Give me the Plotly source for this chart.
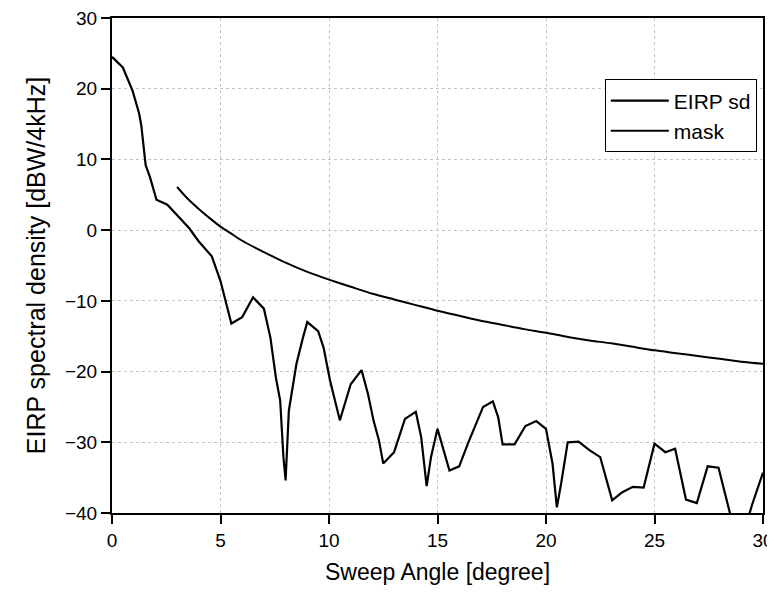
import plotly.graph_objects as go

# EIRP spectral density curve
eirp_x = [0, 0.5, 0.95, 1.25, 1.35, 1.55, 1.75, 2.05, 2.55, 3.1, 3.55, 4.0, 4.6, 5.0, 5.15,
          5.5, 6.0, 6.5, 7.0, 7.3, 7.55, 7.75, 7.9, 8.0, 8.15, 8.5, 8.8, 9.0, 9.5, 9.75,
          10.05, 10.5, 11.0, 11.5, 11.8, 12.05, 12.3, 12.5, 13.0, 13.5, 14.0, 14.25, 14.5,
          14.7, 15.0, 15.55, 16.0, 16.4, 17.1, 17.55, 17.8, 18.0, 18.55, 19.05, 19.55, 20.0,
          20.3, 20.5, 20.7, 21.0, 21.5, 22.0, 22.5, 23.05, 23.5, 24.0, 24.5, 25.0, 25.5,
          25.95, 26.45, 26.95, 27.45, 27.95, 28.5, 29.0, 29.5, 30.0]
eirp_y = [24.5, 23.0, 19.7, 16.5, 14.8, 9.2, 7.5, 4.3, 3.6, 1.7, 0.3, -1.6, -3.7, -7.2, -9.1,
          -13.2, -12.3, -9.5, -11.1, -15.2, -20.8, -24.1, -32.1, -35.4, -25.5, -18.9, -15.2, -13.0, -14.3, -16.6,
          -21.3, -26.9, -21.8, -19.8, -23.2, -26.9, -29.7, -33.0, -31.4, -26.7, -25.7, -29.3, -36.2,
          -32.1, -28.1, -34.0, -33.4, -30.2, -25.0, -24.2, -26.5, -30.3, -30.3, -27.7, -27.0, -28.1,
          -33.0, -39.2, -35.8, -30.0, -29.9, -31.1, -32.1, -38.2, -37.1, -36.3, -36.4, -30.2, -31.4,
          -30.9, -38.1, -38.6, -33.4, -33.6, -40.3, -44.0, -38.8, -34.3]

# Mask curve
mask_x = [3, 3.5, 4, 4.5, 5, 5.5, 6, 7, 8, 9, 10, 11, 12, 13, 14, 15, 16, 17, 18, 19, 20,
          21, 22, 23, 24, 25, 26, 27, 28, 29, 30]
mask_y = [6.1, 4.4, 3.0, 1.7, 0.5, -0.5, -1.5, -3.1, -4.6, -5.9, -7.0, -8.0, -9.0, -9.8, -10.6,
          -11.4, -12.1, -12.8, -13.4, -14.0, -14.5, -15.1, -15.6, -16.0, -16.5, -17.0, -17.4,
          -17.8, -18.2, -18.6, -18.9]

x_ticks = [0, 5, 10, 15, 20, 25, 30]
y_ticks = [-40, -30, -20, -10, 0, 10, 20, 30]

FONT = "Liberation Sans, Arial, sans-serif"

fig = go.Figure()
fig.add_trace(go.Scatter(x=eirp_x, y=eirp_y, mode="lines", name="EIRP sd",
                         line=dict(color="black", width=2.2)))
fig.add_trace(go.Scatter(x=mask_x, y=mask_y, mode="lines", name="mask",
                         line=dict(color="black", width=2, shape="spline", smoothing=0.6)))

axis_common = dict(showline=True, linecolor="black", linewidth=2, mirror=True,
                   ticks="outside", tickcolor="black", tickwidth=2, ticklen=9,
                   showgrid=True, gridcolor="#c4c4c4", griddash="dot", gridwidth=1,
                   zeroline=False, automargin=False, ticklabeloverflow="allow",
                   tickfont=dict(family=FONT, size=19, color="black"))

fig.update_xaxes(range=[0, 30], tickvals=x_ticks,
                 title=dict(text="Sweep Angle [degree]", font=dict(family=FONT, size=23, color="black"), standoff=14),
                 **axis_common)
fig.update_yaxes(range=[-40, 30], tickvals=y_ticks,
                 title=dict(text="EIRP spectral density [dBW/4kHz]", font=dict(family=FONT, size=25, color="black"), standoff=12),
                 **axis_common)

# the page body has an 8px margin; margins are set so the plot lands where the reference has it
fig.update_layout(
    width=775, height=592,
    margin=dict(l=104, r=20, t=10, b=87),
    plot_bgcolor="white", paper_bgcolor="white",
    font=dict(family=FONT, color="black"),
    legend=dict(x=0.757, y=0.876, xanchor="left", yanchor="top",
                bgcolor="white", bordercolor="black", borderwidth=1,
                font=dict(family=FONT, size=21, color="black"),
                itemwidth=58, tracegroupgap=0),
    showlegend=True,
)

fig.write_html("out.html")
